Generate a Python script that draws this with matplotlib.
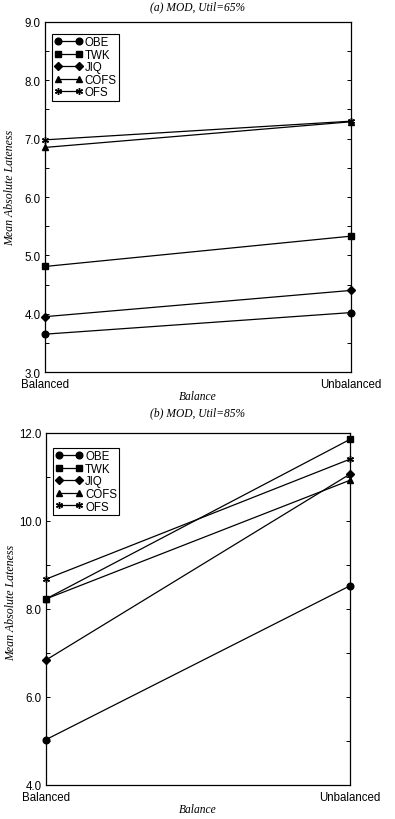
import matplotlib
matplotlib.use("Agg")
import matplotlib.pyplot as plt
import matplotlib.transforms as mtransforms
from matplotlib.ticker import MultipleLocator

# Data
balance = ["Balanced", "Unbalanced"]
series = ["OBE", "TWK", "JIQ", "COFS", "OFS"]
markers = ["o", "s", "D", "^", (6, 2, 0)]
msizes = [4.8, 4.3, 4.0, 4.8, 5]

# (a) Util=65%
obe_65 = [3.65, 4.02]
twk_65 = [4.81, 5.33]
jiq_65 = [3.95, 4.40]
cofs_65 = [6.85, 7.29]
ofs_65 = [6.98, 7.30]

# (b) Util=85%
obe_85 = [5.02, 8.52]
twk_85 = [8.22, 11.85]
jiq_85 = [6.83, 11.06]
cofs_85 = [8.22, 10.92]
ofs_85 = [8.67, 11.40]

sans = "Liberation Sans"
serif = "Liberation Serif"

fig = plt.figure(figsize=(3.95, 8.2), dpi=100)
ax1 = fig.add_axes([0.114, 0.545, 0.775, 0.427])
ax2 = fig.add_axes([0.116, 0.042, 0.770, 0.429])


def draw(ax, data, ylim, major, minor, legtop, ylab_y):
    x = [0, 1]
    for name, vals, m, ms in zip(series, data, markers, msizes):
        ax.plot(x, vals, color="black", lw=0.9, marker=m, ms=ms,
                mec="black", mfc="black", mew=1.0, label=name, clip_on=False,
                zorder=3)
    ax.set_xlim(0, 1)
    ax.set_ylim(*ylim)
    ax.set_xticks(x)
    ax.set_xticklabels(balance, fontfamily=sans, fontsize=8.3)
    ax.yaxis.set_major_locator(MultipleLocator(major))
    ax.yaxis.set_minor_locator(MultipleLocator(minor))
    ax.yaxis.set_major_formatter(plt.FormatStrFormatter("%.1f"))
    ax.tick_params(axis="y", which="both", direction="in", right=True,
                   length=3, width=0.7, pad=3, labelsize=8.3)
    ax.tick_params(axis="x", length=0, pad=4.5)
    for lab in ax.get_yticklabels():
        lab.set_fontfamily(sans)
    # lowest y label sits a touch higher so it clears "Balanced"
    low = ax.yaxis.get_major_ticks()[0].label1
    low.set_transform(low.get_transform() +
                      mtransforms.ScaledTranslation(0, 3 / 72, fig.dpi_scale_trans))
    for s in ax.spines.values():
        s.set_linewidth(0.9)
    ax.set_xlabel("Balance", fontfamily=serif, style="italic", fontsize=8.3,
                  labelpad=0)
    ax.set_ylabel("Mean Absolute Lateness", fontfamily=serif, style="italic",
                  fontsize=8.6)
    ax.yaxis.set_label_coords(-0.095, ylab_y)
    leg = ax.legend(loc="upper left", bbox_to_anchor=(0.023, legtop),
                    numpoints=2, handlelength=2.4, handletextpad=0.2,
                    borderpad=0.2, labelspacing=0.05, borderaxespad=0,
                    fancybox=False, framealpha=1, edgecolor="black",
                    prop={"family": sans, "size": 8.3})
    leg.get_frame().set_linewidth(0.8)
    return ax


draw(ax1, [obe_65, twk_65, jiq_65, cofs_65, ofs_65], (3, 9), 1.0, 0.5,
     0.966, 0.53)
draw(ax2, [obe_85, twk_85, jiq_85, cofs_85, ofs_85], (4, 12), 2.0, 1.0,
     0.957, 0.52)

fig.text(0.5, 0.999, "(a) MOD, Util=65%", ha="center", va="top",
         fontfamily=serif, style="italic", fontsize=8.3)
fig.text(0.5, 0.496, "(b) MOD, Util=85%", ha="center", va="center",
         fontfamily=serif, style="italic", fontsize=8.3)

fig.savefig("out.png", dpi=100)
